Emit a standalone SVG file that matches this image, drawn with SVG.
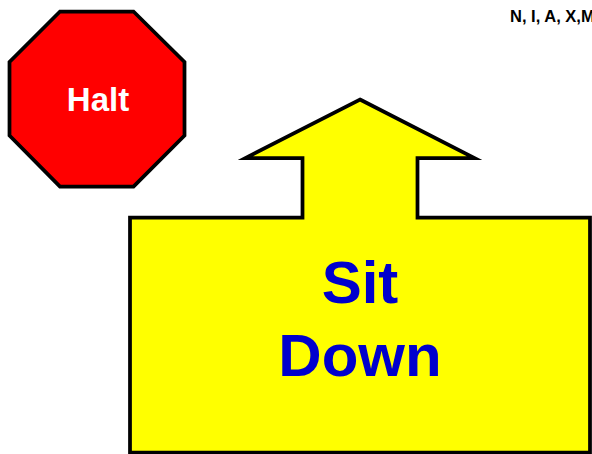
<svg xmlns="http://www.w3.org/2000/svg" width="592" height="454" viewBox="0 0 592 454">
<style>
.s{stroke:#000;stroke-width:3.75;stroke-linejoin:miter;stroke-miterlimit:10}
text{font-family:"Liberation Sans",Arial,sans-serif;font-weight:bold;text-anchor:middle}
</style>
<rect width="592" height="454" fill="#fff"/>
<g id="halt">
<polygon class="s" fill="#f00" points="60,11.5 133.5,11.5 184.5,62 184.5,135.5 133.5,186.5 60,186.5 9.5,135.5 9.5,62"/>
<text x="98" y="111" font-size="33" fill="#fff">Halt</text>
</g>
<g id="sit-down">
<polygon class="s" fill="#ff0" points="360,99.5 474.5,158 417.5,158 417.5,217.5 590,217.5 590,452.5 130,452.5 130,217.5 302.5,217.5 302.5,158 245.5,158"/>
<text x="360" y="303" font-size="60" fill="#0000cd">Sit</text>
<text x="360" y="376" font-size="60" fill="#0000cd">Down</text>
</g>
<g id="label">
<text x="510" y="22" font-size="16.5" fill="#000" style="text-anchor:start">N, I, A, X,M</text>
</g>
<g id="connectors"/>
</svg>
